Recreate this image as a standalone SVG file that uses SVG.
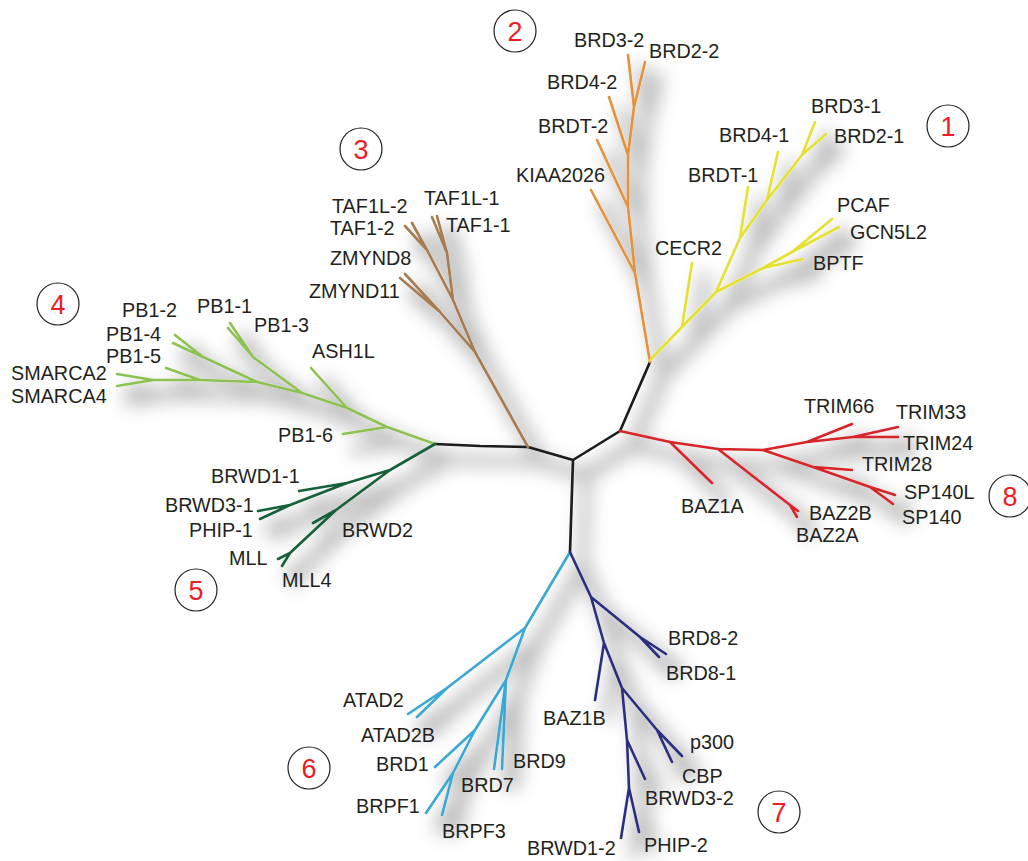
<svg xmlns="http://www.w3.org/2000/svg" width="1028" height="861" viewBox="0 0 1028 861">
<style>
.t{font-family:"Liberation Sans",Arial,sans-serif;font-size:19.8px;fill:#231f20}
.br{fill:none;stroke-width:2.6;stroke-linecap:round;stroke-linejoin:round}
.k{stroke:#1a1a1a}.o{stroke:#e3923c}.y{stroke:#e6e032}.b{stroke:#a67c52}.g{stroke:#8dc153}.dg{stroke:#17603a}.r{stroke:#d6262b}.c{stroke:#3aa8d3}.n{stroke:#2a2f7d}
.cn circle{fill:#fff;stroke:#231f20;stroke-width:1.2}
.cn text{font-family:"Liberation Sans",Arial,sans-serif;font-size:27px;fill:#ee1c25;text-anchor:middle}
</style>
<defs>
<filter id="sh" x="-20%" y="-20%" width="140%" height="140%">
<feMorphology in="SourceAlpha" operator="dilate" radius="4" result="d"/>
<feGaussianBlur in="d" stdDeviation="9" result="bl"/>
<feOffset in="bl" dx="13" dy="15" result="of"/>
<feFlood flood-color="#000" flood-opacity="0.26"/>
<feComposite in2="of" operator="in" result="s"/>
<feMerge><feMergeNode in="s"/><feMergeNode in="SourceGraphic"/></feMerge>
</filter>
</defs>
<rect width="1028" height="861" fill="#fff"/>
<g id="connectors" filter="url(#sh)">
<path class="br k" d="M573,460 L528,447 L480,446 L435,444 M573,460 L620,431 L650,362 M573,460 L570,552"/>
<path class="br o" d="M650,362 L635,273 L628,207 L628,155 L634,107 L628,55 M635,273 L591,190 M628,207 L597,140 M628,155 L609,97 M634,107 L645,62"/>
<path class="br y" d="M650,360 L682,327 L716,292 L740,238 L767,200 L802,155 L815,122 M682,327 L692,263 M740,238 L748,187 M767,200 L778,152 M802,155 L826,134 M716,292 L763,268 L792,252 L832,219 M792,252 L839,227 M763,268 L803,259"/>
<path class="br b" d="M528,447 L475,352 L453,300 L447,253 L432,217 M447,253 L437,216 M453,300 L427,250 L405,226 M427,250 L412,223 M475,352 L440,312 L400,278 M440,312 L405,274"/>
<path class="br g" d="M435,444 L387,427 L347,408 L302,393 L257,382 L200,380 L153,380 L117,374 M153,380 L117,386 M200,380 L166,368 M257,382 L203,357 L175,335 M203,357 L173,343 M302,393 L253,357 L228,328 M253,357 L230,323 M347,408 L311,368 M387,427 L343,434"/>
<path class="br dg" d="M435,444 L390,470 L347,483 L299,491 M347,483 L290,505 L258,511 M290,505 L260,519 M390,470 L336,510 L290,553 L278,559 M290,553 L282,566 M336,510 L313,523"/>
<path class="br r" d="M620,431 L670,442 L718,449 L763,450 L807,442 L853,437 L898,427 M853,437 L898,437 M807,442 L852,424 M670,442 L712,483 M718,449 L790,505 L798,511 M790,505 L797,517 M763,450 L813,467 L870,487 L895,495 M870,487 L893,504 M813,467 L852,470"/>
<path class="br c" d="M570,552 L525,628 L447,688 L408,714 M447,688 L417,717 M525,628 L506,680 L475,730 L453,773 L426,813 M453,773 L442,815 M475,730 L435,767 M506,680 L494,769 M506,680 L502,769"/>
<path class="br n" d="M570,552 L591,597 L604,643 L622,688 L627,740 L629,788 L621,838 M629,788 L639,832 M591,597 L640,637 L666,654 M640,637 L659,657 M604,643 L595,700 M622,688 L657,730 L682,756 M657,730 L672,762 M627,740 L645,779"/>
</g>
<g id="labels">
<g id="n-BRD3-2"><text class="t" x="574" y="47">BRD3-2</text></g>
<g id="n-BRD2-2"><text class="t" x="649" y="58">BRD2-2</text></g>
<g id="n-BRD4-2"><text class="t" x="547" y="89">BRD4-2</text></g>
<g id="n-BRDT-2"><text class="t" x="538" y="133">BRDT-2</text></g>
<g id="n-KIAA2026"><text class="t" x="516" y="182">KIAA2026</text></g>
<g id="n-CECR2"><text class="t" x="655" y="255">CECR2</text></g>
<g id="n-BRD3-1"><text class="t" x="811" y="113">BRD3-1</text></g>
<g id="n-BRD4-1"><text class="t" x="719" y="142">BRD4-1</text></g>
<g id="n-BRD2-1"><text class="t" x="834" y="143">BRD2-1</text></g>
<g id="n-BRDT-1"><text class="t" x="688" y="182">BRDT-1</text></g>
<g id="n-PCAF"><text class="t" x="837" y="212">PCAF</text></g>
<g id="n-GCN5L2"><text class="t" x="850" y="239">GCN5L2</text></g>
<g id="n-BPTF"><text class="t" x="813" y="270">BPTF</text></g>
<g id="n-TAF1L-2"><text class="t" x="332" y="213">TAF1L-2</text></g>
<g id="n-TAF1L-1"><text class="t" x="424" y="205">TAF1L-1</text></g>
<g id="n-TAF1-2"><text class="t" x="330" y="235">TAF1-2</text></g>
<g id="n-TAF1-1"><text class="t" x="446" y="232">TAF1-1</text></g>
<g id="n-ZMYND8"><text class="t" x="330" y="265">ZMYND8</text></g>
<g id="n-ZMYND11"><text class="t" x="309" y="298">ZMYND11</text></g>
<g id="n-PB1-2"><text class="t" x="122" y="317">PB1-2</text></g>
<g id="n-PB1-1"><text class="t" x="197" y="313">PB1-1</text></g>
<g id="n-PB1-4"><text class="t" x="106" y="341">PB1-4</text></g>
<g id="n-PB1-3"><text class="t" x="254" y="332">PB1-3</text></g>
<g id="n-PB1-5"><text class="t" x="106" y="363">PB1-5</text></g>
<g id="n-ASH1L"><text class="t" x="312" y="358">ASH1L</text></g>
<g id="n-SMARCA2"><text class="t" x="11" y="380">SMARCA2</text></g>
<g id="n-SMARCA4"><text class="t" x="11" y="403">SMARCA4</text></g>
<g id="n-PB1-6"><text class="t" x="278" y="442">PB1-6</text></g>
<g id="n-BRWD1-1"><text class="t" x="211" y="483">BRWD1-1</text></g>
<g id="n-BRWD3-1"><text class="t" x="165" y="512">BRWD3-1</text></g>
<g id="n-PHIP-1"><text class="t" x="189" y="537">PHIP-1</text></g>
<g id="n-BRWD2"><text class="t" x="342" y="537">BRWD2</text></g>
<g id="n-MLL"><text class="t" x="229" y="565">MLL</text></g>
<g id="n-MLL4"><text class="t" x="282" y="587">MLL4</text></g>
<g id="n-TRIM66"><text class="t" x="804" y="413">TRIM66</text></g>
<g id="n-TRIM33"><text class="t" x="896" y="419">TRIM33</text></g>
<g id="n-TRIM24"><text class="t" x="903" y="450">TRIM24</text></g>
<g id="n-TRIM28"><text class="t" x="862" y="471">TRIM28</text></g>
<g id="n-SP140L"><text class="t" x="904" y="499">SP140L</text></g>
<g id="n-SP140"><text class="t" x="902" y="524">SP140</text></g>
<g id="n-BAZ1A"><text class="t" x="681" y="513">BAZ1A</text></g>
<g id="n-BAZ2B"><text class="t" x="809" y="520">BAZ2B</text></g>
<g id="n-BAZ2A"><text class="t" x="796" y="542">BAZ2A</text></g>
<g id="n-ATAD2"><text class="t" x="343" y="707">ATAD2</text></g>
<g id="n-ATAD2B"><text class="t" x="361" y="742">ATAD2B</text></g>
<g id="n-BRD1"><text class="t" x="376" y="771">BRD1</text></g>
<g id="n-BRD9"><text class="t" x="513" y="768">BRD9</text></g>
<g id="n-BRD7"><text class="t" x="461" y="792">BRD7</text></g>
<g id="n-BRPF1"><text class="t" x="356" y="813">BRPF1</text></g>
<g id="n-BRPF3"><text class="t" x="442" y="838">BRPF3</text></g>
<g id="n-BRD8-2"><text class="t" x="668" y="645">BRD8-2</text></g>
<g id="n-BRD8-1"><text class="t" x="666" y="680">BRD8-1</text></g>
<g id="n-BAZ1B"><text class="t" x="543" y="725">BAZ1B</text></g>
<g id="n-p300"><text class="t" x="690" y="749">p300</text></g>
<g id="n-CBP"><text class="t" x="682" y="783">CBP</text></g>
<g id="n-BRWD3-2"><text class="t" x="645" y="805">BRWD3-2</text></g>
<g id="n-BRWD1-2"><text class="t" x="527" y="855">BRWD1-2</text></g>
<g id="n-PHIP-2"><text class="t" x="644" y="852">PHIP-2</text></g>
</g>
<g id="clade-numbers" class="cn">
<g id="c1"><circle cx="948" cy="126" r="21"/><text x="948" y="136">1</text></g>
<g id="c2"><circle cx="515" cy="31" r="21"/><text x="515" y="41">2</text></g>
<g id="c3"><circle cx="361" cy="149" r="21"/><text x="361" y="159">3</text></g>
<g id="c4"><circle cx="58" cy="304" r="21"/><text x="58" y="314">4</text></g>
<g id="c5"><circle cx="196" cy="590" r="21"/><text x="196" y="600">5</text></g>
<g id="c6"><circle cx="309" cy="768" r="21"/><text x="309" y="778">6</text></g>
<g id="c7"><circle cx="779" cy="812" r="21"/><text x="779" y="822">7</text></g>
<g id="c8"><circle cx="1010" cy="496" r="21"/><text x="1010" y="506">8</text></g>
</g>
</svg>
